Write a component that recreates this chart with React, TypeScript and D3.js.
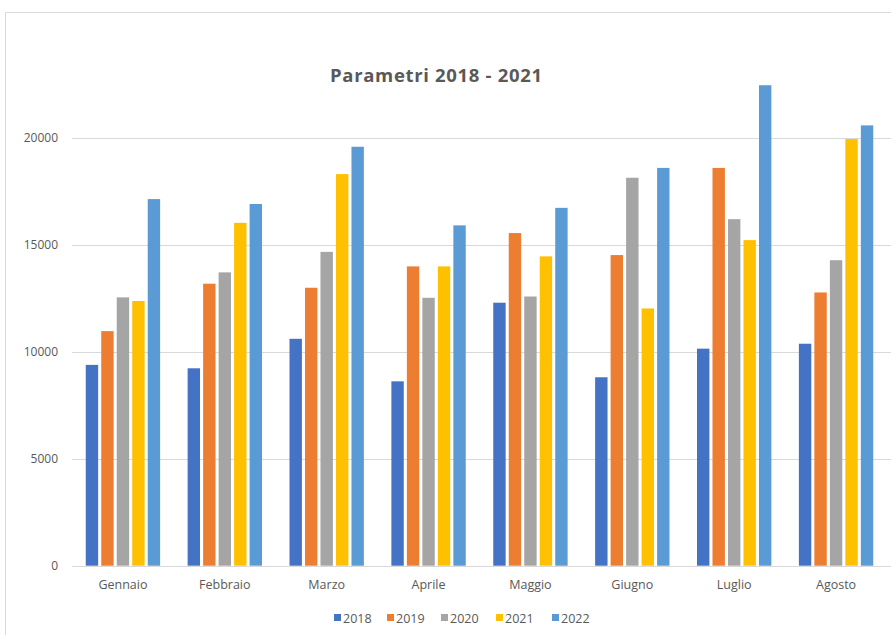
import React from "react";
import * as d3 from "d3";

const months = ["Gennaio", "Febbraio", "Marzo", "Aprile", "Maggio", "Giugno", "Luglio", "Agosto"];
const years = ["2018", "2019", "2020", "2021", "2022"];

const v2018 = [9400, 9240, 10620, 8630, 12310, 8820, 10160, 10390];
const v2019 = [10980, 13200, 13010, 14010, 15570, 14540, 18620, 12790];
const v2020 = [12560, 13730, 14690, 12540, 12600, 18160, 16220, 14300];
const v2021 = [12390, 16050, 18330, 14010, 14480, 12040, 15240, 19970];
const v2022 = [17160, 16930, 19610, 15930, 16750, 18620, 22490, 20610];

const series = [v2018, v2019, v2020, v2021, v2022];
const yTicks = [0, 5000, 10000, 15000, 20000];
const colors = ["#4472C4", "#ED7D31", "#A5A5A5", "#FFC000", "#5B9BD5"];

const W = 891;
const H = 635;
const font = "'Open Sans', 'Noto Sans', sans-serif";

export default function App() {
    const x0 = d3.scaleBand<string>().domain(months).range([72, 887]).paddingInner(0.27).paddingOuter(0.135);
    const x1 = d3.scaleBand<string>().domain(years).range([0, x0.bandwidth()]).paddingInner(0.2);
    const y = d3.scaleLinear().domain([0, 25000]).range([565.7, 31.6]);

    const legendX = [334, 387, 441, 496, 552];

    return (
        <div style={{ position: "absolute", left: 0, top: 0 }}>
            <svg width={W} height={H} style={{ display: "block", background: "#fff" }}>
                {/* chart border, right and bottom run off the picture */}
                <rect x={5.5} y={12.5} width={W + 20} height={H + 20} fill="#fff" stroke="#d9d9d9" />

                <text x={436} y={82} textAnchor="middle" fontFamily={font} fontWeight={700} fontSize={18.5}
                    textLength={212} lengthAdjust="spacing" fill="#595959">
                    Parametri 2018 - 2021
                </text>

                {yTicks.map(t => (
                    <g key={t}>
                        <line x1={72} x2={W} y1={Math.round(y(t)) + 0.5} y2={Math.round(y(t)) + 0.5} stroke="#d9d9d9" strokeWidth={1} />
                        <text x={58} y={y(t) + 4} textAnchor="end" fontFamily={font} fontSize={12} fill="#595959">
                            {t}
                        </text>
                    </g>
                ))}

                {months.map((m, i) => (
                    <g key={m} transform={`translate(${x0(m)},0)`}>
                        {series.map((s, j) => (
                            <rect
                                key={j}
                                x={x1(years[j])}
                                y={y(s[i])}
                                width={x1.bandwidth()}
                                height={y(0) - y(s[i])}
                                fill={colors[j]}
                            />
                        ))}
                        <text x={x0.bandwidth() / 2} y={589} textAnchor="middle" fontFamily={font} fontSize={12.5} fill="#595959">
                            {m}
                        </text>
                    </g>
                ))}

                {years.map((yr, j) => (
                    <g key={yr} transform={`translate(${legendX[j]},0)`}>
                        <rect x={0} y={614} width={7} height={7} fill={colors[j]} />
                        <text x={9} y={622.5} fontFamily={font} fontSize={12.5} fill="#595959">
                            {yr}
                        </text>
                    </g>
                ))}
            </svg>
        </div>
    );
}
